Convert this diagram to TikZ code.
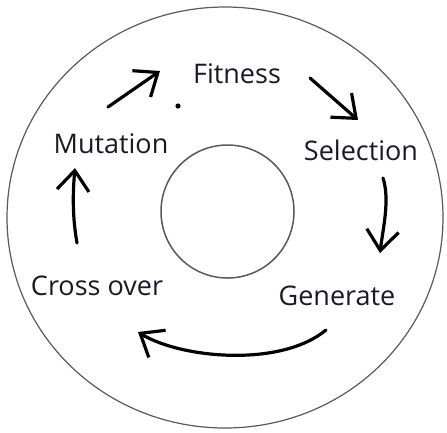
\documentclass[tikz,border=0pt]{standalone}
\usepackage{fontspec}
\setmainfont{Open Sans}
\usepackage[rgb]{xcolor}
\definecolor{ringLine}{rgb}{0.35,0.35,0.35}
\definecolor{stepInk}{rgb}{0.10,0.10,0.16}
\usepackage{tikz}
\usetikzlibrary{arrows.meta}
\tikzstyle{ring} = [draw=ringLine, line width=1.2bp]
\tikzstyle{stage} = [font={\fontsize{27bp}{32bp}\selectfont}, text=stepInk,
        anchor=base, inner sep=0pt]
\tikzstyle{cycleArrow} = [line width=3.2bp, line cap=round, line join=round,
        -{Straight Barb[length=20bp, width=32bp, line width=3.2bp]}]

\begin{document}
\begin{tikzpicture}[x=1bp, y=-1bp]
            \useasboundingbox (0,0) rectangle (447,432);
            \draw [ring] (225,217.5) ellipse [x radius=218, y radius=210.5];
            \draw [ring, line width=1.5bp] (227.5,211.5) circle [radius=66.5];
            \node [stage] (fitness) at (237,83) {Fitness};
            \node [stage] (selection) at (361,160) {Selection};
            \node [stage] (generate) at (337,305) {Generate};
            \node [stage] (crossover) at (97,295) {Cross over};
            \node [stage] (mutation) at (111,153) {Mutation};
            \coordinate (mutTail) at (108,107);
            \coordinate (fitHead) at (160,71);
            \coordinate (fitTail) at (310,78);
            \coordinate (selHead) at (358,120);
            \coordinate (selTail) at (383,178);
            \coordinate (genHead) at (380,253);
            \coordinate (genTail) at (326,330);
            \coordinate (croHead) at (138,332);
            \coordinate (croTail) at (77,243);
            \coordinate (mutHead) at (75,168);
            \draw [cycleArrow] (mutTail) -- (fitHead);
            \draw [cycleArrow] (fitTail) -- (selHead);
            \draw [cycleArrow] (selTail) .. controls (390,200) and (383,228) .. (genHead);
            \draw [cycleArrow] (genTail) .. controls (280,368) and (180,358) .. (croHead);
            \draw [cycleArrow] (croTail) .. controls (72,215) and (73,190) .. (mutHead);
            \fill (178,106) circle [radius=2.6];
        \end{tikzpicture}
\end{document}
